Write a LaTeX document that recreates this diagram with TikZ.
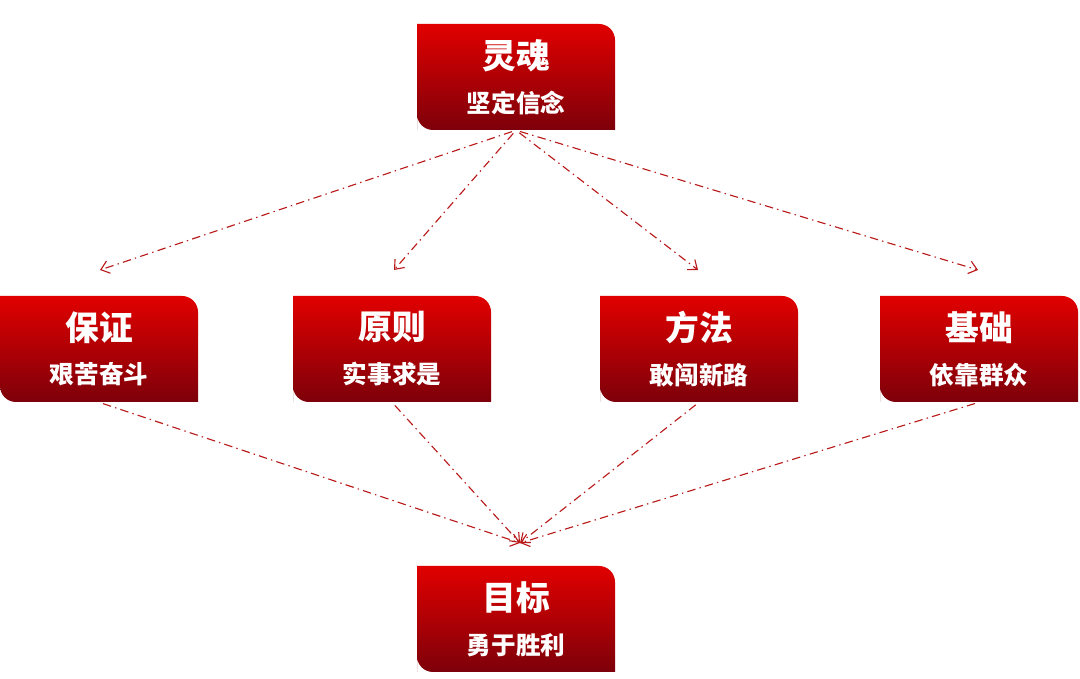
\documentclass[tikz,border=0pt]{standalone}
\usepackage{fontspec}
\setmainfont{Noto Sans CJK SC}
\usetikzlibrary{arrows.meta}
\definecolor{boxtop}{RGB}{225,0,0}
\definecolor{boxbot}{RGB}{125,0,10}
\definecolor{linkred}{RGB}{185,25,25}
\tikzset{
  tagnode/.style={minimum width=4.95cm, minimum height=2.65cm, inner sep=0pt, text=white, align=center, font=\bfseries},
  link/.style={draw=linkred, line width=0.8pt, dash pattern=on 6pt off 3pt on 1pt off 3pt, -{Straight Barb[length=2mm,width=3.2mm]}}
}
% shaded box with rounded top-left and bottom-right corners, plus a named node
\newcommand{\tagbox}[5]{
  \shade[top color=boxtop, bottom color=boxbot]
    ([xshift=-2.475cm,yshift=-1.325cm]#2) -- ([xshift=-2.475cm,yshift=1.325cm]#2) [rounded corners=0.4cm] -- ([xshift=2.475cm,yshift=1.325cm]#2) [sharp corners] -- ([xshift=2.475cm,yshift=-1.325cm]#2) [rounded corners=0.4cm] -- ([xshift=-2.475cm,yshift=-1.325cm]#2) [sharp corners] -- cycle;
  \node (#1) [tagnode] at (#2) {{\fontsize{24}{28}\selectfont #3}\\[0.45cm]{\fontsize{17.5}{20}\selectfont #4}};
}
\begin{document}
\begin{tikzpicture}
  \useasboundingbox (0,0) rectangle (27,16.95);
  % Boxes
  \tagbox{soul}{12.9,15.025}{灵魂}{坚定信念}{}
  \tagbox{guard}{2.475,8.225}{保证}{艰苦奋斗}{}
  \tagbox{rule}{9.8,8.225}{原则}{实事求是}{}
  \tagbox{method}{17.475,8.225}{方法}{敢闯新路}{}
  \tagbox{base}{24.475,8.225}{基础}{依靠群众}{}
  \tagbox{goal}{12.9,1.475}{目标}{勇于胜利}{}
  % Arrow tips
  \coordinate (guard-tip) at (2.5,10.2);
  \coordinate (rule-tip) at (9.85,10.2);
  \coordinate (method-tip) at (17.45,10.2);
  \coordinate (base-tip) at (24.45,10.2);
  \coordinate (goal-tip) at (13.0,3.375);
  % Arrows
  \draw[link, shorten <=3pt] (soul.south) -- (guard-tip);
  \draw[link, shorten <=3pt] (soul.south) -- (rule-tip);
  \draw[link, shorten <=3pt] (soul.south) -- (method-tip);
  \draw[link, shorten <=3pt] (soul.south) -- (base-tip);
  \draw[link, shorten <=3pt] (guard.south) -- (goal-tip);
  \draw[link, shorten <=3pt] (rule.south) -- (goal-tip);
  \draw[link, shorten <=3pt] (method.south) -- (goal-tip);
  \draw[link, shorten <=3pt] (base.south) -- (goal-tip);
\end{tikzpicture}
\end{document}
